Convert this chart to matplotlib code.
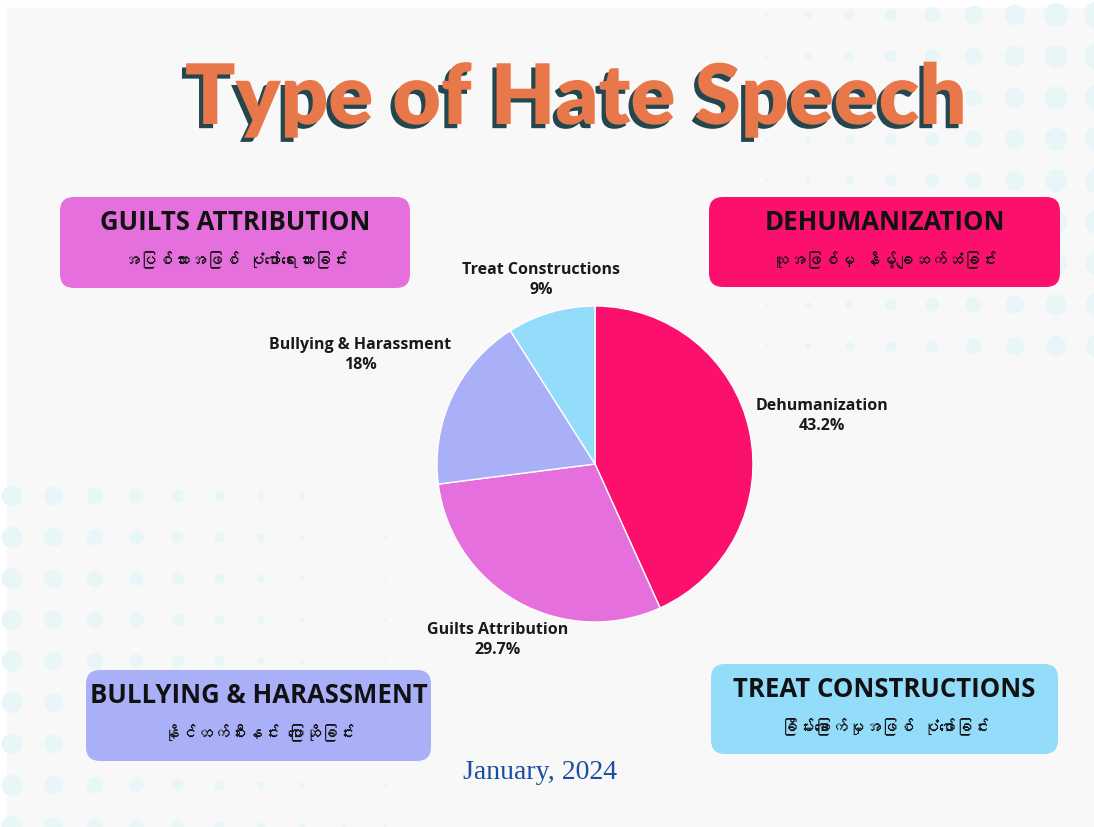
import matplotlib
matplotlib.use("Agg")
import matplotlib.pyplot as plt
import matplotlib.patheffects as pe
import numpy as np
from matplotlib import font_manager
from matplotlib.ft2font import FT2Font
from matplotlib.patches import FancyBboxPatch, Rectangle

W, H = 1094, 828

# ---------------------------------------------------------------- data
labels = ["Dehumanization", "Guilts Attribution", "Bullying & Harassment", "Treat Constructions"]
shares = [43.2, 29.7, 18, 9]
pct_text = ["43.2%", "29.7%", "18%", "9%"]
colors = ["#fc106e", "#e56fdc", "#aab0f8", "#93dcfa"]

box_titles = ["GUILTS ATTRIBUTION", "DEHUMANIZATION", "BULLYING & HARASSMENT", "TREAT CONSTRUCTIONS"]
box_subs = ["အပြစ်သားအဖြစ် ပုံဖော်ရေးသားခြင်း", "လူအဖြစ်မှ နိမ့်ချဆက်ဆံခြင်း",
            "နိုင်ထက်စီးနင်း ပြောဆိုခြင်း", "ခြိမ်းခြောက်မှုအဖြစ် ပုံဖော်ခြင်း"]
box_colors = ["#e56fdc", "#fc106e", "#aab0f8", "#93dcfa"]


def family_with(ch):
    # look for any installed font that has a glyph for ch
    seen = set()
    for f in font_manager.fontManager.ttflist:
        if f.fname in seen:
            continue
        seen.add(f.fname)
        try:
            if ord(ch) in FT2Font(f.fname).get_charmap():
                return f.name
        except Exception:
            pass
    return None


TEXT_FONT = ["Open Sans", "DejaVu Sans"]
mm = family_with("က")
SUB_FONT = ([mm] if mm else []) + TEXT_FONT
BG = "#f8f8f8"
DOT = "#e8f6f8"

fig = plt.figure(figsize=(W / 100, H / 100), dpi=100)
fig.patch.set_facecolor("white")

# full-figure canvas in pixel units
cv = fig.add_axes([0, 0, 1, 1])
cv.set_xlim(0, W); cv.set_ylim(H, 0); cv.axis("off")
cv.add_patch(Rectangle((7, 9), W - 7, H - 9, color=BG, zorder=0))

# faint halftone dots (decoration), bottom-left and top-right
gx, gy = np.meshgrid(np.arange(12, 400, 41.5), np.arange(497, 830, 41.3))
r = np.clip(10.5 * (1 - (gx - 12) / 400), 1.5, None)
cv.scatter(gx.ravel(), gy.ravel(), s=(2 * r.ravel() * 0.72) ** 2, color=DOT,
           lw=0, zorder=0.5)
gx, gy = np.meshgrid(np.arange(767, 1100, 41.3), np.arange(16, 360, 41.4))
r = (2 + 10 * (gx - 767) / 288) * (1 - 0.15 * (gy - 16) / 331)
cv.scatter(gx.ravel(), gy.ravel(), s=(2 * r.ravel() * 0.72) ** 2, color=DOT,
           lw=0, zorder=0.5)

# title with offset shadow
cv.text(576, 125, "Type of Hate Speech", ha="center", va="baseline",
        fontsize=60, fontweight="heavy", family="Lato", color="#e8784a", zorder=3,
        path_effects=[pe.SimplePatchShadow(offset=(-3, -3), shadow_rgbFace="#24464e", alpha=1),
                      pe.Normal()])

# category boxes: (x0, y0, x1, y1)
boxes = [(60, 198, 410, 289), (709, 198, 1060, 288), (86, 671, 431, 762), (711, 665, 1058, 755)]
for (x0, y0, x1, y1), t, s, c in zip(boxes, box_titles, box_subs, box_colors):
    cv.add_patch(FancyBboxPatch((x0, y0), x1 - x0, y1 - y0,
                                boxstyle="round,pad=0,rounding_size=14",
                                fc=c, ec="none", zorder=2))
    xc = (x0 + x1) / 2
    cv.text(xc, y0 + 25, t, ha="center", va="center", fontsize=18.5,
            fontweight="bold", family=TEXT_FONT, color="#111111", zorder=3)
    cv.text(xc, y0 + 62, s, ha="center", va="center", fontsize=12,
            family=SUB_FONT, color="#111111", zorder=3)

cv.text(540, 773, "January, 2024", ha="center", va="center", fontsize=20,
        family="Liberation Serif", color="#1a4fa0", zorder=3)

# pie
cx, cy, R = 595, 465, 158
pax = fig.add_axes([(cx - R) / W, (H - cy - R) / H, 2 * R / W, 2 * R / H])
wedges, _ = pax.pie(shares, colors=colors, startangle=90, counterclock=False,
                    radius=1, wedgeprops=dict(edgecolor="white", linewidth=1))
pax.set_xlim(-1, 1); pax.set_ylim(-1, 1)
pax.set_aspect("equal"); pax.axis("off")

label_dist = [1.47, 1.27, 1.64, 1.22]
for w, lab, pt, d in zip(wedges, labels, pct_text, label_dist):
    mid = np.deg2rad((w.theta1 + w.theta2) / 2)
    pax.text(d * np.cos(mid), d * np.sin(mid), f"{lab}\n{pt}", ha="center", va="center",
             fontsize=11.5, fontweight="bold", family=TEXT_FONT, color="#1a1a1a",
             linespacing=1.35, clip_on=False)

fig.savefig("out.png", dpi=100, facecolor=fig.get_facecolor())
